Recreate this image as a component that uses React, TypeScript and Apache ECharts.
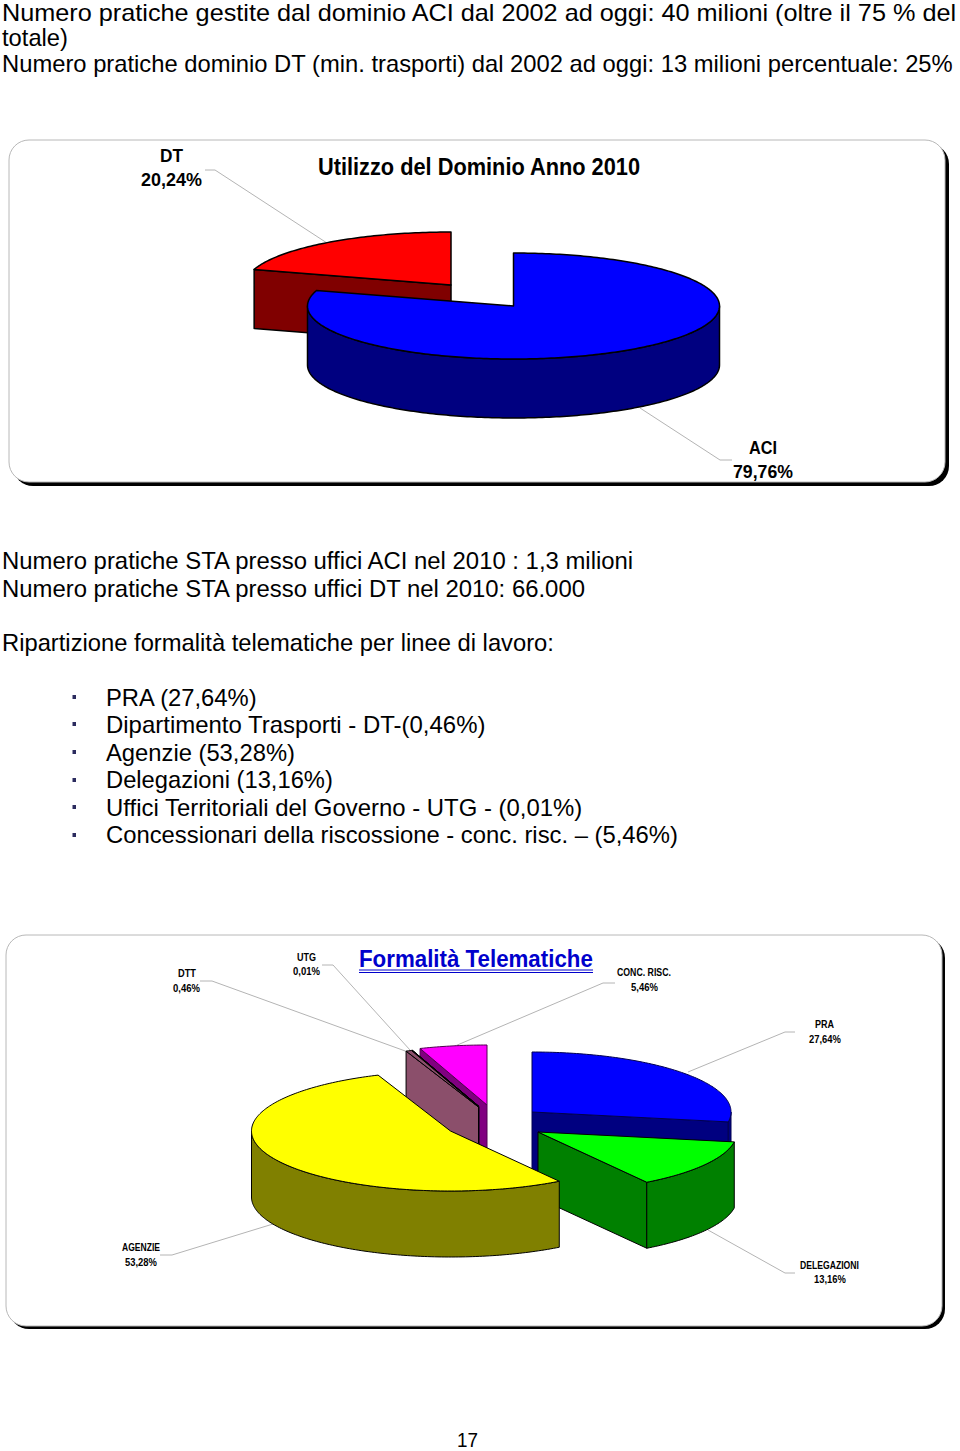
import React, { useEffect, useRef } from "react";
import * as echarts from "echarts";

// ---------- data ----------
const domainNames = ["ACI", "DT"];
const domainValues = [79.76, 20.24];
const telematicNames = ["PRA", "DELEGAZIONI", "AGENZIE", "DTT", "UTG", "CONC. RISC."];
const telematicValues = [27.64, 13.16, 53.28, 0.46, 0.01, 5.46];
const domainTitle = "Utilizzo del Dominio Anno 2010";
const telematicTitle = "Formalità Telematiche";

const pageLines = [
  "Numero pratiche gestite dal dominio ACI dal 2002 ad oggi: 40 milioni (oltre il 75 % del",
  "totale)",
  "Numero pratiche dominio DT (min. trasporti) dal 2002 ad oggi: 13 milioni percentuale: 25%",
  "Numero pratiche STA presso uffici ACI nel 2010 : 1,3 milioni",
  "Numero pratiche STA presso uffici DT nel 2010: 66.000",
  "Ripartizione formalità telematiche per linee di lavoro:",
];
const bulletLines = [
  "PRA (27,64%)",
  "Dipartimento Trasporti - DT-(0,46%)",
  "Agenzie (53,28%)",
  "Delegazioni (13,16%)",
  "Uffici Territoriali del Governo - UTG - (0,01%)",
  "Concessionari della riscossione - conc. risc. – (5,46%)",
];
const pageNumber = "17";

// ---------- layout and style ----------
const FONT = '"Liberation Sans", Arial, sans-serif';
const pageLineBoxes = [[2, 12.5, 956], [2, 37, 66], [2, 63.5, 952], [2, 560.5, 634], [2, 588.5, 585], [2, 642.5, 552]];
const bulletEnds = [258, 486, 295, 333, 583, 678];
const bulletYs = [697, 724.5, 752, 779.5, 807, 834.5];
const bulletMarkYs = [697, 724, 752, 780, 807, 835];

const domainGeo = {
  rx: 206, ry: 53, depth: 59, lineWidth: 1.5,
  centers: [[513.5, 306], [451, 285]], order: [1, 0],
  stroke: ["#000", "#000"],
};
const domainTop = ["#0000ff", "#ff0000"];
const domainSide = ["#000080", "#800000"];

const telematicGeo = {
  rx: 199, ry: 60, depth: 66, lineWidth: 1,
  centers: [[532, 1112], [538, 1132], [450.5, 1131], [478.5, 1107], [479, 1106.5], [487, 1105]],
  order: [0, 1, 5, 4, 3, 2],
  stroke: ["#000050", "#000", "#000", "#000", "#000", "#500050"],
};
const telematicTop = ["#0000ff", "#00ff00", "#ffff00", "#8b4f6b", "#000000", "#ff00ff"];
const telematicSide = ["#000080", "#008000", "#808000", "#8b4f6b", "#000000", "#800080"];

type Label = [string, number, number, number, number];
const domainLabels: Label[] = [
  ["DT", 160, 156, 23, 18], ["20,24%", 141, 180, 61, 18],
  ["ACI", 749, 448, 28, 18], ["79,76%", 733, 472, 60, 18],
];
const telematicLabels: Label[] = [
  ["DTT", 178, 973, 18, 11.5], ["0,46%", 173, 988, 27, 11.5],
  ["UTG", 297, 957, 19, 11.5], ["0,01%", 293, 971, 27, 11.5],
  ["CONC. RISC.", 617, 972, 54, 11.5], ["5,46%", 631, 987, 27, 11.5],
  ["PRA", 815, 1024, 19, 11.5], ["27,64%", 809, 1039, 32, 11.5],
  ["AGENZIE", 122, 1247, 38, 11.5], ["53,28%", 125, 1262, 32, 11.5],
  ["DELEGAZIONI", 800, 1265, 59, 11.5], ["13,16%", 814, 1279, 32, 11.5],
];
const leaders = [
  [[205, 170], [215, 170], [327, 243]],
  [[640, 408], [720, 460], [732, 460]],
  [[200, 981], [212, 981], [408, 1052]],
  [[322, 965], [333, 965], [410, 1050]],
  [[615, 983], [603, 983], [455, 1046]],
  [[795, 1032], [785, 1032], [688, 1072]],
  [[795, 1273], [785, 1273], [708, 1230]],
  [[160, 1255], [172, 1255], [273, 1224]],
];

// ---------- helpers ----------
const ctx = document.createElement("canvas").getContext("2d")!;
function fitted(text: string, x: number, y: number, width: number, size: number, weight: string, fill = "#000") {
  ctx.font = `${weight} ${size}px "Liberation Sans"`;
  const natural = ctx.measureText(text).width || 1;
  return {
    type: "text", x, y, scaleX: width / natural, silent: true,
    style: { text, fill, fontSize: size, fontWeight: weight, fontFamily: FONT, textAlign: "left", textVerticalAlign: "middle" },
  };
}
function card(x: number, y: number, w: number, h: number, off: number) {
  return [
    { type: "rect", shape: { x: x + off, y: y + off, width: w, height: h, r: 20 }, style: { fill: "#000" }, silent: true },
    { type: "rect", shape: { x, y, width: w, height: h, r: 20 }, style: { fill: "#fff", stroke: "#b8b8b8", lineWidth: 1 }, silent: true },
  ];
}

function pieSeries(names: string[], values: number[], geo: any, top: string[], side: string[], z: number) {
  const total = values.reduce((a, b) => a + b, 0);
  const starts = values.map((_, i) => values.slice(0, i).reduce((a, b) => a + b, 0));
  const data = geo.order.map((i: number) => ({ name: names[i], value: [values[i], starts[i], i] }));
  return {
    type: "custom", coordinateSystem: "none", silent: true, z, data,
    renderItem: (_: any, api: any) => {
      const v = api.value(0), s = api.value(1), idx = api.value(2);
      const a0 = (s / total) * 2 * Math.PI, a1 = ((s + v) / total) * 2 * Math.PI;
      const [cx, cy] = geo.centers[idx];
      const pt = (t: number, dy = 0) => [cx + geo.rx * Math.sin(t), cy - geo.ry * Math.cos(t) + dy];
      const arc = (from: number, to: number, dy = 0) => {
        const n = Math.max(1, Math.ceil(Math.abs(to - from) / (Math.PI / 180)));
        const out: number[][] = [];
        for (let k = 0; k <= n; k++) out.push(pt(from + ((to - from) * k) / n, dy));
        return out;
      };
      const style = (fill: string) => ({ fill, stroke: geo.stroke[idx], lineWidth: geo.lineWidth, lineJoin: "round" });
      const children: any[] = [];
      const d = geo.depth;
      const wall = (t: number) => {
        const p = pt(t);
        children.push({
          type: "polygon",
          shape: { points: [[cx, cy], p, [p[0], p[1] + d], [cx, cy + d]] },
          style: style(side[idx]),
        });
      };
      if (Math.sin(a0) < -1e-6) wall(a0);
      if (Math.sin(a1) > 1e-6) wall(a1);
      const f0 = Math.max(a0, Math.PI / 2), f1 = Math.min(a1, (3 * Math.PI) / 2);
      if (f1 > f0) {
        children.push({
          type: "polygon",
          shape: { points: [...arc(f0, f1), ...arc(f1, f0, d)] },
          style: style(side[idx]),
        });
      }
      children.push({
        type: "polygon",
        shape: { points: [[cx, cy], ...arc(a0, a1)] },
        style: style(top[idx]),
      });
      return { type: "group", children };
    },
  };
}

export default function App() {
  const ref = useRef<HTMLDivElement>(null);
  useEffect(() => {
    document.body.style.margin = "0";
    const chart = echarts.init(ref.current!, undefined, { renderer: "svg" });
    const bg = [...card(9, 140, 936, 342, 4), ...card(6, 935, 936, 391, 3)];
    const fg: any[] = [];
    pageLines.forEach((t, i) => {
      const [x, y, w] = pageLineBoxes[i];
      fg.push(fitted(t, x, y, w, 24, "normal"));
    });
    bulletLines.forEach((t, i) => {
      fg.push(fitted(t, 106, bulletYs[i], bulletEnds[i] - 106, 24, "normal"));
      fg.push({ type: "rect", shape: { x: 72.5, y: bulletMarkYs[i] - 2, width: 3.5, height: 4 }, style: { fill: "#2b2b5e" }, silent: true });
    });
    fg.push(fitted(pageNumber, 457, 1439.5, 21, 21, "normal"));
    fg.push(fitted(domainTitle, 318, 167, 323, 24, "bold"));
    fg.push(fitted(telematicTitle, 359, 958.5, 234, 24, "bold", "#0000cc"));
    fg.push({ type: "line", shape: { x1: 359, y1: 970, x2: 593, y2: 970 }, style: { stroke: "#0000cc", lineWidth: 1 }, silent: true });
    fg.push({ type: "line", shape: { x1: 359, y1: 972.5, x2: 593, y2: 972.5 }, style: { stroke: "#0000cc", lineWidth: 1 }, silent: true });
    [...domainLabels, ...telematicLabels].forEach(([t, x, y, w, s]) => fg.push(fitted(t, x, y, w, s, "bold")));
    leaders.forEach((points) =>
      fg.push({ type: "polyline", shape: { points }, style: { stroke: "#b4b4b4", lineWidth: 1, fill: "none" }, silent: true })
    );
    chart.setOption({
      animation: false,
      backgroundColor: "#fff",
      graphic: { elements: [{ type: "group", z: 0, children: bg }, { type: "group", z: 10, children: fg }] },
      series: [
        pieSeries(domainNames, domainValues, domainGeo, domainTop, domainSide, 5),
        pieSeries(telematicNames, telematicValues, telematicGeo, telematicTop, telematicSide, 5),
      ],
    });
    return () => chart.dispose();
  }, []);
  return <div ref={ref} style={{ width: 960, height: 1451 }} />;
}
